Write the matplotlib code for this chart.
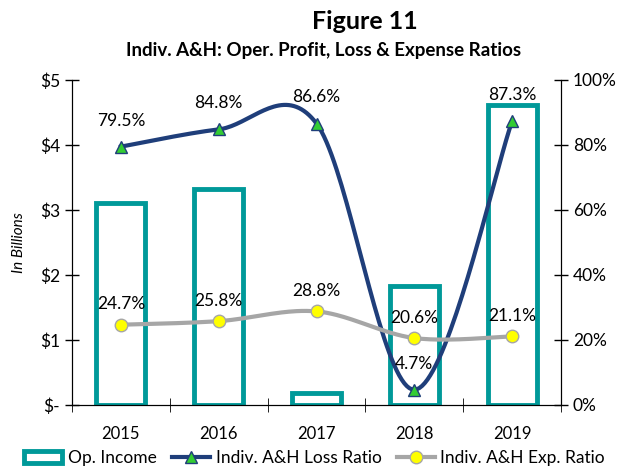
import matplotlib.pyplot as plt
import numpy as np
from matplotlib.patches import Patch
from matplotlib.lines import Line2D

plt.rcParams['font.family'] = ['Lato', 'DejaVu Sans']

years = ['2015', '2016', '2017', '2018', '2019']
op_income = [3.11, 3.32, 0.18, 1.83, 4.62]          # $ billions
loss_ratio = [79.5, 84.8, 86.6, 4.7, 87.3]          # %
exp_ratio = [24.7, 25.8, 28.8, 20.6, 21.1]          # %

teal = '#009999'
navy = '#1F3E7A'
grey = '#A6A6A6'


def smooth(xs, ys, n=40):
    # excel-style smoothed line (catmull-rom as bezier)
    p = np.column_stack([xs, ys]).astype(float)
    p = np.vstack([p[0], p, p[-1]])
    out = []
    for i in range(1, len(p) - 2):
        p0, p1, p2, p3 = p[i - 1], p[i], p[i + 1], p[i + 2]
        c1 = p1 + (p2 - p0) / 6
        c2 = p2 - (p3 - p1) / 6
        t = np.linspace(0, 1, n)[:, None]
        seg = (1 - t) ** 3 * p1 + 3 * (1 - t) ** 2 * t * c1 + 3 * (1 - t) * t ** 2 * c2 + t ** 3 * p2
        out.append(seg)
    out = np.vstack(out)
    return out[:, 0], out[:, 1]


fig = plt.figure(figsize=(6.23, 4.7), dpi=100)
ax = fig.add_axes([0.1156, 0.1383, 0.7849, 0.6915])
x = np.arange(len(years))

ax.bar(x, op_income, width=0.5, facecolor='white', edgecolor=teal, linewidth=3.5, zorder=1)
ax.set_ylim(0, 5)
ax.set_xlim(-0.5, 4.5)
ax.set_yticks([0, 1, 2, 3, 4, 5])
ax.set_yticklabels(['$-', '$1', '$2', '$3', '$4', '$5'], fontsize=12.5)
ax.set_ylabel('In Billions', style='italic', fontsize=11, labelpad=10)
ax.set_xticks(x)
ax.set_xticklabels(years, fontsize=12)
ax.tick_params(axis='x', length=0, pad=15)
ax.set_xticks(np.arange(-0.5, 5, 1), minor=True)
ax.tick_params(axis='x', which='minor', direction='inout', length=10)
ax.tick_params(axis='y', direction='inout', length=10, width=1)
ax.spines['top'].set_visible(False)

ax2 = ax.twinx()
ax2.set_ylim(0, 100)
ax2.set_yticks([0, 20, 40, 60, 80, 100])
ax2.set_yticklabels(['0%', '20%', '40%', '60%', '80%', '100%'], fontsize=12.5)
ax2.tick_params(axis='y', direction='inout', length=10, width=1)
ax2.spines['top'].set_visible(False)

sx, sy = smooth(x, loss_ratio)
ax2.plot(sx, sy, color=navy, linewidth=3, zorder=3)
ax2.plot(x, loss_ratio, linestyle='none', marker='^', markersize=9,
         markerfacecolor='#33CC33', markeredgecolor=navy, zorder=4)
ex, ey = smooth(x, exp_ratio)
ax2.plot(ex, ey, color=grey, linewidth=3, zorder=3)
ax2.plot(x, exp_ratio, linestyle='none', marker='o', markersize=9,
         markerfacecolor='#FFFF00', markeredgecolor=grey, zorder=4)

for xi, v in zip(x, loss_ratio):
    ax2.annotate(f'{v:.1f}%', (xi, v), textcoords='offset points', xytext=(0, 13),
                 ha='center', va='bottom', fontsize=12.5)
for xi, v in zip(x, exp_ratio):
    ax2.annotate(f'{v:.1f}%', (xi, v), textcoords='offset points', xytext=(0, 9),
                 ha='center', va='bottom', fontsize=12.5)

fig.text(0.585, 0.955, 'Figure 11', ha='center', va='center', fontsize=18, fontweight='bold')
fig.text(0.52, 0.893, 'Indiv. A&H: Oper. Profit, Loss & Expense Ratios', ha='center', va='center',
         fontsize=13.5, fontweight='bold')

handles = [
    Patch(facecolor='white', edgecolor=teal, linewidth=3.5),
    Line2D([], [], color=navy, linewidth=3, marker='^', markersize=9,
           markerfacecolor='#33CC33', markeredgecolor=navy),
    Line2D([], [], color=grey, linewidth=3, marker='o', markersize=9,
           markerfacecolor='#FFFF00', markeredgecolor=grey),
]
fig.legend(handles, ['Op. Income', 'Indiv. A&H Loss Ratio', 'Indiv. A&H Exp. Ratio'],
           loc='lower center', bbox_to_anchor=(0.505, -0.025), ncol=3, frameon=False,
           fontsize=12.5, handlelength=2.2, columnspacing=0.9, handletextpad=0.3)

fig.savefig('out.png', dpi=100)
